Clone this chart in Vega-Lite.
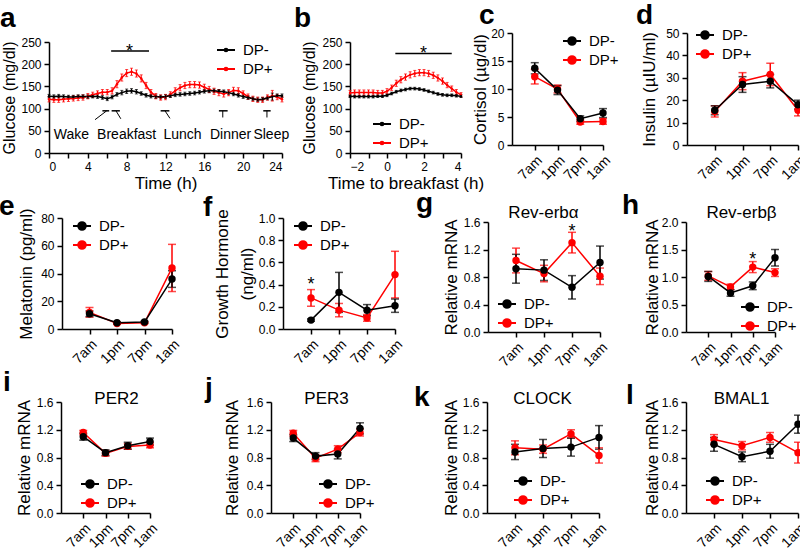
{
"$schema": "https://vega.github.io/schema/vega-lite/v6.json",
"autosize": {"type": "none"},
"padding": {"left": 49, "top": 33, "right": 751, "bottom": 525},
"background": "white",
"columns": 4,
"bounds": "flush",
"align": "each",
"spacing": {"row": 65, "column": 0},
"resolve": {"scale": {"color": "independent"}},
"config": {
 "view": {"stroke": null},
 "font": "Liberation Sans",
 "axis": {"domainColor": "#000000", "domainWidth": 1.5, "tickColor": "#000000", "tickWidth": 1.5, "tickSize": 5, "labelColor": "#000000", "labelFontSize": 12, "labelFont": "Liberation Sans", "titleFont": "Liberation Sans", "titleFontSize": 17, "titleFontWeight": "normal", "titleColor": "#000000", "grid": false, "labelPadding": 3},
 "legend": {"orient": "none", "title": null, "labelFontSize": 15, "labelFont": "Liberation Sans", "labelColor": "#000000", "symbolSize": 324, "symbolStrokeWidth": 2, "rowPadding": 1, "labelOffset": 7},
 "title": {"font": "Liberation Sans", "fontSize": 28, "fontWeight": "bold", "color": "#000000", "anchor": "start", "frame": "group", "offset": 0, "baseline": "alphabetic"},
 "text": {"font": "Liberation Sans"}
},
"datasets": {
 "glucose24": [
  {"h":0,"group":"DP+","glucose":121,"err":6},{"h":0.5,"group":"DP+","glucose":120,"err":6},{"h":1,"group":"DP+","glucose":120,"err":6},{"h":1.5,"group":"DP+","glucose":121,"err":6},{"h":2,"group":"DP+","glucose":122,"err":6},{"h":2.5,"group":"DP+","glucose":123,"err":6},{"h":3,"group":"DP+","glucose":124,"err":6},{"h":3.5,"group":"DP+","glucose":125,"err":6},{"h":4,"group":"DP+","glucose":128,"err":6},{"h":4.5,"group":"DP+","glucose":131,"err":6},{"h":5,"group":"DP+","glucose":134,"err":6},{"h":5.5,"group":"DP+","glucose":137,"err":6},{"h":6,"group":"DP+","glucose":137,"err":6},{"h":6.5,"group":"DP+","glucose":140,"err":7},{"h":7,"group":"DP+","glucose":155,"err":8},{"h":7.5,"group":"DP+","glucose":170,"err":8},{"h":8,"group":"DP+","glucose":180,"err":8},{"h":8.5,"group":"DP+","glucose":183,"err":8},{"h":9,"group":"DP+","glucose":179,"err":8},{"h":9.5,"group":"DP+","glucose":168,"err":8},{"h":10,"group":"DP+","glucose":152,"err":7},{"h":10.5,"group":"DP+","glucose":137,"err":6},{"h":11,"group":"DP+","glucose":128,"err":6},{"h":11.5,"group":"DP+","glucose":125,"err":6},{"h":12,"group":"DP+","glucose":126,"err":6},{"h":12.5,"group":"DP+","glucose":132,"err":6},{"h":13,"group":"DP+","glucose":140,"err":7},{"h":13.5,"group":"DP+","glucose":147,"err":7},{"h":14,"group":"DP+","glucose":152,"err":7},{"h":14.5,"group":"DP+","glucose":154,"err":7},{"h":15,"group":"DP+","glucose":154,"err":7},{"h":15.5,"group":"DP+","glucose":153,"err":7},{"h":16,"group":"DP+","glucose":148,"err":7},{"h":16.5,"group":"DP+","glucose":143,"err":7},{"h":17,"group":"DP+","glucose":139,"err":7},{"h":17.5,"group":"DP+","glucose":136,"err":7},{"h":18,"group":"DP+","glucose":133,"err":7},{"h":18.5,"group":"DP+","glucose":136,"err":7},{"h":19,"group":"DP+","glucose":141,"err":7},{"h":19.5,"group":"DP+","glucose":140,"err":7},{"h":20,"group":"DP+","glucose":134,"err":6},{"h":20.5,"group":"DP+","glucose":127,"err":6},{"h":21,"group":"DP+","glucose":122,"err":6},{"h":21.5,"group":"DP+","glucose":120,"err":6},{"h":22,"group":"DP+","glucose":120,"err":6},{"h":22.5,"group":"DP+","glucose":125,"err":6},{"h":23,"group":"DP+","glucose":129,"err":12},{"h":23.5,"group":"DP+","glucose":126,"err":6},{"h":24,"group":"DP+","glucose":121,"err":6},
  {"h":0,"group":"DP-","glucose":128,"err":4},{"h":0.5,"group":"DP-","glucose":127,"err":4},{"h":1,"group":"DP-","glucose":128,"err":4},{"h":1.5,"group":"DP-","glucose":127,"err":4},{"h":2,"group":"DP-","glucose":126,"err":4},{"h":2.5,"group":"DP-","glucose":126,"err":4},{"h":3,"group":"DP-","glucose":127,"err":4},{"h":3.5,"group":"DP-","glucose":127,"err":4},{"h":4,"group":"DP-","glucose":127,"err":4},{"h":4.5,"group":"DP-","glucose":128,"err":4},{"h":5,"group":"DP-","glucose":127,"err":4},{"h":5.5,"group":"DP-","glucose":125,"err":4},{"h":6,"group":"DP-","glucose":122,"err":4},{"h":6.5,"group":"DP-","glucose":126,"err":4},{"h":7,"group":"DP-","glucose":132,"err":4},{"h":7.5,"group":"DP-","glucose":136,"err":5},{"h":8,"group":"DP-","glucose":139,"err":5},{"h":8.5,"group":"DP-","glucose":140,"err":5},{"h":9,"group":"DP-","glucose":138,"err":5},{"h":9.5,"group":"DP-","glucose":134,"err":4},{"h":10,"group":"DP-","glucose":130,"err":4},{"h":10.5,"group":"DP-","glucose":128,"err":4},{"h":11,"group":"DP-","glucose":127,"err":4},{"h":11.5,"group":"DP-","glucose":126,"err":4},{"h":12,"group":"DP-","glucose":127,"err":4},{"h":12.5,"group":"DP-","glucose":129,"err":4},{"h":13,"group":"DP-","glucose":131,"err":4},{"h":13.5,"group":"DP-","glucose":132,"err":4},{"h":14,"group":"DP-","glucose":133,"err":4},{"h":14.5,"group":"DP-","glucose":134,"err":4},{"h":15,"group":"DP-","glucose":135,"err":4},{"h":15.5,"group":"DP-","glucose":137,"err":4},{"h":16,"group":"DP-","glucose":139,"err":4},{"h":16.5,"group":"DP-","glucose":140,"err":4},{"h":17,"group":"DP-","glucose":140,"err":4},{"h":17.5,"group":"DP-","glucose":139,"err":4},{"h":18,"group":"DP-","glucose":138,"err":4},{"h":18.5,"group":"DP-","glucose":136,"err":4},{"h":19,"group":"DP-","glucose":133,"err":4},{"h":19.5,"group":"DP-","glucose":130,"err":4},{"h":20,"group":"DP-","glucose":127,"err":4},{"h":20.5,"group":"DP-","glucose":125,"err":4},{"h":21,"group":"DP-","glucose":122,"err":4},{"h":21.5,"group":"DP-","glucose":120,"err":4},{"h":22,"group":"DP-","glucose":121,"err":4},{"h":22.5,"group":"DP-","glucose":124,"err":4},{"h":23,"group":"DP-","glucose":127,"err":8},{"h":23.5,"group":"DP-","glucose":129,"err":4},{"h":24,"group":"DP-","glucose":129,"err":4}
 ],
 "breakfast": [
  {"t":-2,"group":"DP+","glucose":135,"err":6},{"t":-1.75,"group":"DP+","glucose":136,"err":6},{"t":-1.5,"group":"DP+","glucose":136,"err":6},{"t":-1.25,"group":"DP+","glucose":136,"err":6},{"t":-1,"group":"DP+","glucose":136,"err":6},{"t":-0.75,"group":"DP+","glucose":136,"err":6},{"t":-0.5,"group":"DP+","glucose":135,"err":6},{"t":-0.25,"group":"DP+","glucose":135,"err":6},{"t":0,"group":"DP+","glucose":139,"err":6},{"t":0.25,"group":"DP+","glucose":147,"err":6},{"t":0.5,"group":"DP+","glucose":157,"err":7},{"t":0.75,"group":"DP+","glucose":165,"err":7},{"t":1,"group":"DP+","glucose":171,"err":7},{"t":1.25,"group":"DP+","glucose":176,"err":7},{"t":1.5,"group":"DP+","glucose":179,"err":7},{"t":1.75,"group":"DP+","glucose":181,"err":7},{"t":2,"group":"DP+","glucose":181,"err":7},{"t":2.25,"group":"DP+","glucose":179,"err":7},{"t":2.5,"group":"DP+","glucose":175,"err":7},{"t":2.75,"group":"DP+","glucose":169,"err":7},{"t":3,"group":"DP+","glucose":162,"err":7},{"t":3.25,"group":"DP+","glucose":153,"err":6},{"t":3.5,"group":"DP+","glucose":145,"err":6},{"t":3.75,"group":"DP+","glucose":137,"err":6},{"t":4,"group":"DP+","glucose":131,"err":5},
  {"t":-2,"group":"DP-","glucose":128,"err":3},{"t":-1.75,"group":"DP-","glucose":127,"err":3},{"t":-1.5,"group":"DP-","glucose":127,"err":3},{"t":-1.25,"group":"DP-","glucose":127,"err":3},{"t":-1,"group":"DP-","glucose":127,"err":3},{"t":-0.75,"group":"DP-","glucose":127,"err":3},{"t":-0.5,"group":"DP-","glucose":128,"err":3},{"t":-0.25,"group":"DP-","glucose":128,"err":3},{"t":0,"group":"DP-","glucose":130,"err":3},{"t":0.25,"group":"DP-","glucose":134,"err":3},{"t":0.5,"group":"DP-","glucose":138,"err":3},{"t":0.75,"group":"DP-","glucose":141,"err":3},{"t":1,"group":"DP-","glucose":143,"err":3},{"t":1.25,"group":"DP-","glucose":145,"err":3},{"t":1.5,"group":"DP-","glucose":145,"err":3},{"t":1.75,"group":"DP-","glucose":144,"err":3},{"t":2,"group":"DP-","glucose":142,"err":3},{"t":2.25,"group":"DP-","glucose":139,"err":3},{"t":2.5,"group":"DP-","glucose":136,"err":3},{"t":2.75,"group":"DP-","glucose":133,"err":3},{"t":3,"group":"DP-","glucose":131,"err":3},{"t":3.25,"group":"DP-","glucose":130,"err":3},{"t":3.5,"group":"DP-","glucose":130,"err":3},{"t":3.75,"group":"DP-","glucose":129,"err":3},{"t":4,"group":"DP-","glucose":128,"err":3}
 ],
 "cortisol": [
  {"time":"7am","group":"DP+","value":12.2,"err":1.3},{"time":"1pm","group":"DP+","value":10.0,"err":0.7},{"time":"7pm","group":"DP+","value":4.1,"err":0.4},{"time":"1am","group":"DP+","value":4.2,"err":0.5},
  {"time":"7am","group":"DP-","value":13.7,"err":1.0},{"time":"1pm","group":"DP-","value":9.8,"err":0.8},{"time":"7pm","group":"DP-","value":4.7,"err":0.5},{"time":"1am","group":"DP-","value":5.7,"err":0.8}
 ],
 "insulin": [
  {"time":"7am","group":"DP+","value":15.0,"err":2.5},{"time":"1pm","group":"DP+","value":28.5,"err":3.8},{"time":"7pm","group":"DP+","value":31.5,"err":5.0},{"time":"1am","group":"DP+","value":15.5,"err":2.5},
  {"time":"7am","group":"DP-","value":15.5,"err":2.0},{"time":"1pm","group":"DP-","value":27.0,"err":3.5},{"time":"7pm","group":"DP-","value":28.5,"err":3.0},{"time":"1am","group":"DP-","value":18.0,"err":2.0}
 ],
 "melatonin": [
  {"time":"7am","group":"DP+","value":12,"err":3.5},{"time":"1pm","group":"DP+","value":4.0,"err":0.6},{"time":"7pm","group":"DP+","value":4.5,"err":0.6},{"time":"1am","group":"DP+","value":44,"err":17},
  {"time":"7am","group":"DP-","value":11,"err":2},{"time":"1pm","group":"DP-","value":4.5,"err":0.6},{"time":"7pm","group":"DP-","value":5.0,"err":0.6},{"time":"1am","group":"DP-","value":36,"err":6}
 ],
 "gh": [
  {"time":"7am","group":"DP+","value":0.28,"err":0.075},{"time":"1pm","group":"DP+","value":0.17,"err":0.06},{"time":"7pm","group":"DP+","value":0.10,"err":0.03},{"time":"1am","group":"DP+","value":0.49,"err":0.21},
  {"time":"7am","group":"DP-","value":0.08,"err":0.01},{"time":"1pm","group":"DP-","value":0.33,"err":0.18},{"time":"7pm","group":"DP-","value":0.17,"err":0.05},{"time":"1am","group":"DP-","value":0.21,"err":0.06}
 ],
 "reverba": [
  {"time":"7am","group":"DP+","value":1.04,"err":0.18},{"time":"1pm","group":"DP+","value":0.85,"err":0.12},{"time":"7pm","group":"DP+","value":1.30,"err":0.15},{"time":"1am","group":"DP+","value":0.81,"err":0.12},
  {"time":"7am","group":"DP-","value":0.92,"err":0.21},{"time":"1pm","group":"DP-","value":0.90,"err":0.15},{"time":"7pm","group":"DP-","value":0.65,"err":0.17},{"time":"1am","group":"DP-","value":1.01,"err":0.24}
 ],
 "reverbb": [
  {"time":"7am","group":"DP+","value":1.02,"err":0.08},{"time":"1pm","group":"DP+","value":0.82,"err":0.05},{"time":"7pm","group":"DP+","value":1.18,"err":0.10},{"time":"1am","group":"DP+","value":1.08,"err":0.07},
  {"time":"7am","group":"DP-","value":1.01,"err":0.09},{"time":"1pm","group":"DP-","value":0.71,"err":0.06},{"time":"7pm","group":"DP-","value":0.84,"err":0.07},{"time":"1am","group":"DP-","value":1.35,"err":0.15}
 ],
 "per2": [
  {"time":"7am","group":"DP+","value":1.16,"err":0.03},{"time":"1pm","group":"DP+","value":0.86,"err":0.04},{"time":"7pm","group":"DP+","value":0.96,"err":0.04},{"time":"1am","group":"DP+","value":0.98,"err":0.04},
  {"time":"7am","group":"DP-","value":1.10,"err":0.05},{"time":"1pm","group":"DP-","value":0.87,"err":0.04},{"time":"7pm","group":"DP-","value":0.97,"err":0.05},{"time":"1am","group":"DP-","value":1.03,"err":0.05}
 ],
 "per3": [
  {"time":"7am","group":"DP+","value":1.15,"err":0.04},{"time":"1pm","group":"DP+","value":0.79,"err":0.05},{"time":"7pm","group":"DP+","value":0.92,"err":0.05},{"time":"1am","group":"DP+","value":1.16,"err":0.05},
  {"time":"7am","group":"DP-","value":1.08,"err":0.05},{"time":"1pm","group":"DP-","value":0.82,"err":0.05},{"time":"7pm","group":"DP-","value":0.85,"err":0.07},{"time":"1am","group":"DP-","value":1.22,"err":0.08}
 ],
 "clock": [
  {"time":"7am","group":"DP+","value":0.94,"err":0.10},{"time":"1pm","group":"DP+","value":0.92,"err":0.06},{"time":"7pm","group":"DP+","value":1.14,"err":0.06},{"time":"1am","group":"DP+","value":0.83,"err":0.11},
  {"time":"7am","group":"DP-","value":0.88,"err":0.11},{"time":"1pm","group":"DP-","value":0.93,"err":0.13},{"time":"7pm","group":"DP-","value":0.95,"err":0.13},{"time":"1am","group":"DP-","value":1.09,"err":0.17}
 ],
 "bmal1": [
  {"time":"7am","group":"DP+","value":1.06,"err":0.07},{"time":"1pm","group":"DP+","value":0.97,"err":0.06},{"time":"7pm","group":"DP+","value":1.09,"err":0.07},{"time":"1am","group":"DP+","value":0.87,"err":0.15},
  {"time":"7am","group":"DP-","value":0.99,"err":0.10},{"time":"1pm","group":"DP-","value":0.81,"err":0.07},{"time":"7pm","group":"DP-","value":0.89,"err":0.10},{"time":"1am","group":"DP-","value":1.28,"err":0.13}
 ]
},
"concat": [
 {
  "title": {"text": "a", "dx": -49, "dy": 4},
  "width": 222, "height": 120,
  "data": {"name": "glucose24"},
  "encoding": {
   "x": {"field": "h", "type": "quantitative", "scale": {"domain": [0, 24], "nice": false, "range": [0, 233]}, "axis": {"values": [0,2,4,6,8,10,12,14,16,18,20,22,24], "title": "Time (h)", "titlePadding": 3}},
   "y": {"field": "glucose", "type": "quantitative", "scale": {"domain": [0, 250], "nice": false, "range": [120, 9]}, "axis": {"values": [0,50,100,150,200,250], "title": "Glucose (mg/dl)", "titleFontSize": 16, "titlePadding": 3}},
   "color": {"field": "group", "type": "nominal", "scale": {"domain": ["DP-", "DP+"], "range": ["#000000", "#ff0000"]}, "legend": {"legendX": 167, "legendY": 7, "encode": {"symbols": {"update": {"fill": {"signal": "datum.value === 'DP-' ? '#000000' : '#ff0000'"}, "stroke": {"signal": "datum.value === 'DP-' ? '#000000' : '#ff0000'"}, "strokeWidth": {"value": 2}, "opacity": {"value": 1}, "shape": {"value": "M-1,0H1M-0.15,0A0.15,0.15 0 1 0 0.15,0A0.15,0.15 0 1 0 -0.15,0"}}}}}}
  },
  "layer": [
   {"mark": {"type": "errorbar", "ticks": true, "size": 3, "thickness": 1}, "encoding": {"yError": {"field": "err"}}},
   {"mark": {"type": "line", "strokeWidth": 1.5}},
   {"mark": {"type": "point", "filled": true, "size": 6, "opacity": 1}},
   {"data": {"values": [{"h": 6.4, "h2": 10.3, "glucose": 230}]}, "mark": {"type": "rule", "strokeWidth": 1.5}, "encoding": {"x2": {"field": "h2"}, "color": {"value": "#000000"}}},
   {"data": {"values": [{"h": 8.3, "glucose": 236, "s": "*"}]}, "mark": {"type": "text", "fontSize": 18, "baseline": "middle", "dy": 4}, "encoding": {"text": {"field": "s"}, "color": {"value": "#000000"}}},
   {"data": {"values": [{"meal": "Wake", "h": 5.5, "h2": 6.2, "glucose": 95}, {"meal": "Breakfast", "h": 6.45, "h2": 7.3, "glucose": 95}, {"meal": "Lunch", "h": 11.5, "h2": 12.4, "glucose": 95}, {"meal": "Dinner", "h": 17.5, "h2": 18.4, "glucose": 95}, {"meal": "Sleep", "h": 22.07, "h2": 22.83, "glucose": 95}]}, "mark": {"type": "rule", "strokeWidth": 1.5}, "encoding": {"x2": {"field": "h2"}, "color": {"value": "#000000"}}},
   {"data": {"values": [{"meal": "Wake", "h": 5.94, "h2": 4.74, "glucose": 95, "glucose2": 75}, {"meal": "Breakfast", "h": 6.9, "h2": 7.4, "glucose": 95, "glucose2": 77}, {"meal": "Lunch", "h": 11.95, "h2": 12.46, "glucose": 95, "glucose2": 78}, {"meal": "Dinner", "h": 17.9, "h2": 17.9, "glucose": 95, "glucose2": 80}, {"meal": "Sleep", "h": 22.45, "h2": 22.45, "glucose": 95, "glucose2": 80}]}, "mark": {"type": "rule", "strokeWidth": 1}, "encoding": {"x2": {"field": "h2"}, "y2": {"field": "glucose2"}, "color": {"value": "#000000"}}},
   {"data": {"values": [{"meal": "Wake", "h": 2.3, "glucose": 40}, {"meal": "Breakfast", "h": 8.0, "glucose": 40}, {"meal": "Lunch", "h": 13.76, "glucose": 40}, {"meal": "Dinner", "h": 18.7, "glucose": 40}, {"meal": "Sleep", "h": 22.9, "glucose": 40}]}, "mark": {"type": "text", "fontSize": 14, "baseline": "middle"}, "encoding": {"text": {"field": "meal"}, "color": {"value": "#000000"}}}
  ]
 },
 {
  "title": {"text": "b", "dx": 23, "dy": 4},
  "width": 216, "height": 120,
  "data": {"name": "breakfast"},
  "encoding": {
   "x": {"field": "t", "type": "quantitative", "scale": {"domain": [-2, 4], "nice": false, "range": [79, 190]}, "axis": {"values": [-2,-1,0,1,2,3,4], "title": "Time to breakfast (h)", "titlePadding": 3}},
   "y": {"field": "glucose", "type": "quantitative", "scale": {"domain": [0, 250], "nice": false, "range": [120, 9]}, "axis": {"values": [0,50,100,150,200,250], "title": "Glucose (mg/dl)", "titleFontSize": 16, "titlePadding": 4, "offset": -79}},
   "color": {"field": "group", "type": "nominal", "scale": {"domain": ["DP-", "DP+"], "range": ["#000000", "#ff0000"]}, "legend": {"legendX": 101, "legendY": 81, "encode": {"symbols": {"update": {"fill": {"signal": "datum.value === 'DP-' ? '#000000' : '#ff0000'"}, "stroke": {"signal": "datum.value === 'DP-' ? '#000000' : '#ff0000'"}, "strokeWidth": {"value": 2}, "opacity": {"value": 1}, "shape": {"value": "M-1,0H1M-0.15,0A0.15,0.15 0 1 0 0.15,0A0.15,0.15 0 1 0 -0.15,0"}}}}}}
  },
  "layer": [
   {"mark": {"type": "errorbar", "ticks": true, "size": 3, "thickness": 1}, "encoding": {"yError": {"field": "err"}}},
   {"mark": {"type": "line", "strokeWidth": 1.5}},
   {"mark": {"type": "point", "filled": true, "size": 6, "opacity": 1}},
   {"data": {"values": [{"t": 0.45, "t2": 3.5, "glucose": 224}]}, "mark": {"type": "rule", "strokeWidth": 1.5}, "encoding": {"x2": {"field": "t2"}, "color": {"value": "#000000"}}},
   {"data": {"values": [{"t": 1.97, "glucose": 231, "s": "*"}]}, "mark": {"type": "text", "fontSize": 18, "baseline": "middle", "dy": 4}, "encoding": {"text": {"field": "s"}, "color": {"value": "#000000"}}}
  ]
 },
 {
  "title": {"text": "c", "dx": -8, "dy": 7},
  "width": 199, "height": 112,
  "data": {"name": "cortisol"},
  "encoding": {
   "x": {"field": "time", "type": "ordinal", "sort": ["7am","1pm","7pm","1am"], "scale": {"type": "point", "padding": 0.5, "align": 1, "range": [25, 116]}, "axis": {"labelAngle": -45, "labelFontSize": 14, "title": null}},
   "y": {"field": "value", "type": "quantitative", "scale": {"domain": [0, 20], "nice": false}, "axis": {"values": [0,5,10,15,20], "title": "Cortisol (µg/dl)", "titlePadding": 1, "offset": -25}},
   "color": {"field": "group", "type": "nominal", "scale": {"domain": ["DP-", "DP+"], "range": ["#000000", "#ff0000"]}, "legend": {"legendX": 75, "legendY": -2, "encode": {"symbols": {"update": {"fill": {"signal": "datum.value === 'DP-' ? '#000000' : '#ff0000'"}, "stroke": {"signal": "datum.value === 'DP-' ? '#000000' : '#ff0000'"}, "strokeWidth": {"value": 2}, "opacity": {"value": 1}, "shape": {"value": "M-1,0H1M-0.42,0A0.42,0.42 0 1 0 0.42,0A0.42,0.42 0 1 0 -0.42,0"}}}}}}
  },
  "layer": [
   {"mark": {"type": "errorbar", "ticks": true, "size": 8, "thickness": 1.5}, "encoding": {"yError": {"field": "err"}}},
   {"mark": {"type": "line", "strokeWidth": 1.5}},
   {"mark": {"type": "point", "filled": true, "size": 55, "opacity": 1}}
  ]
 },
 {
  "title": {"text": "d", "dx": -50, "dy": 9},
  "width": 112, "height": 112,
  "data": {"name": "insulin"},
  "encoding": {
   "x": {"field": "time", "type": "ordinal", "sort": ["7am","1pm","7pm","1am"], "scale": {"type": "point", "padding": 0.5, "align": 1, "range": [1, 112]}, "axis": {"labelAngle": -45, "labelFontSize": 14, "title": null}},
   "y": {"field": "value", "type": "quantitative", "scale": {"domain": [0, 50], "nice": false}, "axis": {"values": [0,10,20,30,40,50], "title": "Insulin (µIU/ml)", "titlePadding": 7, "offset": -1}},
   "color": {"field": "group", "type": "nominal", "scale": {"domain": ["DP-", "DP+"], "range": ["#000000", "#ff0000"]}, "legend": {"legendX": 9, "legendY": -8, "encode": {"symbols": {"update": {"fill": {"signal": "datum.value === 'DP-' ? '#000000' : '#ff0000'"}, "stroke": {"signal": "datum.value === 'DP-' ? '#000000' : '#ff0000'"}, "strokeWidth": {"value": 2}, "opacity": {"value": 1}, "shape": {"value": "M-1,0H1M-0.42,0A0.42,0.42 0 1 0 0.42,0A0.42,0.42 0 1 0 -0.42,0"}}}}}}
  },
  "layer": [
   {"mark": {"type": "errorbar", "ticks": true, "size": 8, "thickness": 1.5}, "encoding": {"yError": {"field": "err"}}},
   {"mark": {"type": "line", "strokeWidth": 1.5}},
   {"mark": {"type": "point", "filled": true, "size": 55, "opacity": 1}}
  ]
 },
 {
  "title": {"text": "e", "dx": -50, "dy": 17},
  "width": 222, "height": 111,
  "data": {"name": "melatonin"},
  "encoding": {
   "x": {"field": "time", "type": "ordinal", "sort": ["7am","1pm","7pm","1am"], "scale": {"type": "point", "padding": 0.5, "align": 1, "range": [13, 123]}, "axis": {"labelAngle": -45, "labelFontSize": 14, "title": null}},
   "y": {"field": "value", "type": "quantitative", "scale": {"domain": [0, 80], "nice": false}, "axis": {"values": [0,20,40,60,80], "title": "Melatonin (pg/ml)", "titlePadding": 5, "offset": -13}},
   "color": {"field": "group", "type": "nominal", "scale": {"domain": ["DP-", "DP+"], "range": ["#000000", "#ff0000"]}, "legend": {"legendX": 23, "legendY": -2, "encode": {"symbols": {"update": {"fill": {"signal": "datum.value === 'DP-' ? '#000000' : '#ff0000'"}, "stroke": {"signal": "datum.value === 'DP-' ? '#000000' : '#ff0000'"}, "strokeWidth": {"value": 2}, "opacity": {"value": 1}, "shape": {"value": "M-1,0H1M-0.42,0A0.42,0.42 0 1 0 0.42,0A0.42,0.42 0 1 0 -0.42,0"}}}}}}
  },
  "layer": [
   {"mark": {"type": "errorbar", "ticks": true, "size": 8, "thickness": 1.5}, "encoding": {"yError": {"field": "err"}}},
   {"mark": {"type": "line", "strokeWidth": 1.5}},
   {"mark": {"type": "point", "filled": true, "size": 55, "opacity": 1}}
  ]
 },
 {
  "title": {"text": "f", "dx": -68, "dy": 17},
  "width": 216, "height": 111,
  "data": {"name": "gh"},
  "encoding": {
   "x": {"field": "time", "type": "ordinal", "sort": ["7am","1pm","7pm","1am"], "scale": {"type": "point", "padding": 0.5, "align": 1, "range": [12, 124]}, "axis": {"labelAngle": -45, "labelFontSize": 14, "title": null}},
   "y": {"field": "value", "type": "quantitative", "scale": {"domain": [0, 1], "nice": false}, "axis": {"values": [0,0.2,0.4,0.6,0.8,1.0], "format": ".1f", "title": ["Growth Hormone", "(ng/ml)"], "titleLineHeight": 25, "titlePadding": 2, "offset": -12}},
   "color": {"field": "group", "type": "nominal", "scale": {"domain": ["DP-", "DP+"], "range": ["#000000", "#ff0000"]}, "legend": {"legendX": 22, "legendY": -2, "encode": {"symbols": {"update": {"fill": {"signal": "datum.value === 'DP-' ? '#000000' : '#ff0000'"}, "stroke": {"signal": "datum.value === 'DP-' ? '#000000' : '#ff0000'"}, "strokeWidth": {"value": 2}, "opacity": {"value": 1}, "shape": {"value": "M-1,0H1M-0.42,0A0.42,0.42 0 1 0 0.42,0A0.42,0.42 0 1 0 -0.42,0"}}}}}}
  },
  "layer": [
   {"mark": {"type": "errorbar", "ticks": true, "size": 8, "thickness": 1.5}, "encoding": {"yError": {"field": "err"}}},
   {"mark": {"type": "line", "strokeWidth": 1.5}},
   {"mark": {"type": "point", "filled": true, "size": 55, "opacity": 1}},
   {"data": {"values": [{"time": "7am", "value": 0.43, "s": "*"}]}, "mark": {"type": "text", "fontSize": 18, "baseline": "middle", "dy": 4}, "encoding": {"text": {"field": "s"}, "color": {"value": "#000000"}}}
  ]
 },
 {
  "title": {"text": "g", "dx": -71, "dy": 19},
  "width": 199, "height": 114,
  "data": {"name": "reverba"},
  "encoding": {
   "x": {"field": "time", "type": "ordinal", "sort": ["7am","1pm","7pm","1am"], "scale": {"type": "point", "padding": 0.5, "align": 1, "range": [1, 113]}, "axis": {"labelAngle": -45, "labelFontSize": 14, "title": "Rev-erbα", "titleY": -115, "titleX": 56, "titleBaseline": "alphabetic"}},
   "y": {"field": "value", "type": "quantitative", "scale": {"domain": [0, 1.6], "nice": false, "range": [114, 4]}, "axis": {"values": [0,0.4,0.8,1.2,1.6], "format": ".1f", "title": "Relative mRNA", "titlePadding": 3, "offset": -1}},
   "color": {"field": "group", "type": "nominal", "scale": {"domain": ["DP-", "DP+"], "range": ["#000000", "#ff0000"]}, "legend": {"legendX": 10, "legendY": 76, "encode": {"symbols": {"update": {"fill": {"signal": "datum.value === 'DP-' ? '#000000' : '#ff0000'"}, "stroke": {"signal": "datum.value === 'DP-' ? '#000000' : '#ff0000'"}, "strokeWidth": {"value": 2}, "opacity": {"value": 1}, "shape": {"value": "M-1,0H1M-0.42,0A0.42,0.42 0 1 0 0.42,0A0.42,0.42 0 1 0 -0.42,0"}}}}}}
  },
  "layer": [
   {"mark": {"type": "errorbar", "ticks": true, "size": 8, "thickness": 1.5}, "encoding": {"yError": {"field": "err"}}},
   {"mark": {"type": "line", "strokeWidth": 1.5}},
   {"mark": {"type": "point", "filled": true, "size": 55, "opacity": 1}},
   {"data": {"values": [{"time": "7pm", "value": 1.52, "s": "*"}]}, "mark": {"type": "text", "fontSize": 18, "baseline": "middle", "dy": 4}, "encoding": {"text": {"field": "s"}, "color": {"value": "#000000"}}}
  ]
 },
 {
  "title": {"text": "h", "dx": -64, "dy": 21},
  "width": 112, "height": 114,
  "data": {"name": "reverbb"},
  "encoding": {
   "x": {"field": "time", "type": "ordinal", "sort": ["7am","1pm","7pm","1am"], "scale": {"type": "point", "padding": 0.5, "align": 1, "range": [0, 89]}, "axis": {"labelAngle": -45, "labelFontSize": 14, "title": "Rev-erbβ", "titleY": -115, "titleX": 55, "titleBaseline": "alphabetic"}},
   "y": {"field": "value", "type": "quantitative", "scale": {"domain": [0, 2], "nice": false, "range": [114, 4]}, "axis": {"values": [0,0.5,1.0,1.5,2.0], "format": ".1f", "title": "Relative mRNA", "titlePadding": 0}},
   "color": {"field": "group", "type": "nominal", "scale": {"domain": ["DP-", "DP+"], "range": ["#000000", "#ff0000"]}, "legend": {"legendX": 54, "legendY": 79, "encode": {"symbols": {"update": {"fill": {"signal": "datum.value === 'DP-' ? '#000000' : '#ff0000'"}, "stroke": {"signal": "datum.value === 'DP-' ? '#000000' : '#ff0000'"}, "strokeWidth": {"value": 2}, "opacity": {"value": 1}, "shape": {"value": "M-1,0H1M-0.42,0A0.42,0.42 0 1 0 0.42,0A0.42,0.42 0 1 0 -0.42,0"}}}}}}
  },
  "layer": [
   {"mark": {"type": "errorbar", "ticks": true, "size": 8, "thickness": 1.5}, "encoding": {"yError": {"field": "err"}}},
   {"mark": {"type": "line", "strokeWidth": 1.5}},
   {"mark": {"type": "point", "filled": true, "size": 55, "opacity": 1}},
   {"data": {"values": [{"time": "7pm", "value": 1.39, "s": "*"}]}, "mark": {"type": "text", "fontSize": 18, "baseline": "middle", "dy": 4}, "encoding": {"text": {"field": "s"}, "color": {"value": "#000000"}}}
  ]
 },
 {
  "title": {"text": "i", "dx": -46, "dy": 12},
  "width": 222, "height": 116,
  "data": {"name": "per2"},
  "encoding": {
   "x": {"field": "time", "type": "ordinal", "sort": ["7am","1pm","7pm","1am"], "scale": {"type": "point", "padding": 0.5, "align": 1, "range": [12, 101]}, "axis": {"labelAngle": -45, "labelFontSize": 14, "title": "PER2", "titleY": -110, "titleX": 67, "titleBaseline": "alphabetic"}},
   "y": {"field": "value", "type": "quantitative", "scale": {"domain": [0, 1.6], "nice": false, "range": [116, 5]}, "axis": {"values": [0,0.4,0.8,1.2,1.6], "format": ".1f", "title": "Relative mRNA", "titlePadding": 3, "offset": -12}},
   "color": {"field": "group", "type": "nominal", "scale": {"domain": ["DP-", "DP+"], "range": ["#000000", "#ff0000"]}, "legend": {"legendX": 31, "legendY": 77, "encode": {"symbols": {"update": {"fill": {"signal": "datum.value === 'DP-' ? '#000000' : '#ff0000'"}, "stroke": {"signal": "datum.value === 'DP-' ? '#000000' : '#ff0000'"}, "strokeWidth": {"value": 2}, "opacity": {"value": 1}, "shape": {"value": "M-1,0H1M-0.42,0A0.42,0.42 0 1 0 0.42,0A0.42,0.42 0 1 0 -0.42,0"}}}}}}
  },
  "layer": [
   {"mark": {"type": "errorbar", "ticks": true, "size": 8, "thickness": 1.5}, "encoding": {"yError": {"field": "err"}}},
   {"mark": {"type": "line", "strokeWidth": 1.5}},
   {"mark": {"type": "point", "filled": true, "size": 55, "opacity": 1}}
  ]
 },
 {
  "title": {"text": "j", "dx": -66, "dy": 18},
  "width": 216, "height": 116,
  "data": {"name": "per3"},
  "encoding": {
   "x": {"field": "time", "type": "ordinal", "sort": ["7am","1pm","7pm","1am"], "scale": {"type": "point", "padding": 0.5, "align": 1, "range": [0, 89]}, "axis": {"labelAngle": -45, "labelFontSize": 14, "title": "PER3", "titleY": -110, "titleX": 55, "titleBaseline": "alphabetic"}},
   "y": {"field": "value", "type": "quantitative", "scale": {"domain": [0, 1.6], "nice": false, "range": [116, 5]}, "axis": {"values": [0,0.4,0.8,1.2,1.6], "format": ".1f", "title": "Relative mRNA", "titlePadding": 5}},
   "color": {"field": "group", "type": "nominal", "scale": {"domain": ["DP-", "DP+"], "range": ["#000000", "#ff0000"]}, "legend": {"legendX": 47, "legendY": 77, "encode": {"symbols": {"update": {"fill": {"signal": "datum.value === 'DP-' ? '#000000' : '#ff0000'"}, "stroke": {"signal": "datum.value === 'DP-' ? '#000000' : '#ff0000'"}, "strokeWidth": {"value": 2}, "opacity": {"value": 1}, "shape": {"value": "M-1,0H1M-0.42,0A0.42,0.42 0 1 0 0.42,0A0.42,0.42 0 1 0 -0.42,0"}}}}}}
  },
  "layer": [
   {"mark": {"type": "errorbar", "ticks": true, "size": 8, "thickness": 1.5}, "encoding": {"yError": {"field": "err"}}},
   {"mark": {"type": "line", "strokeWidth": 1.5}},
   {"mark": {"type": "point", "filled": true, "size": 55, "opacity": 1}}
  ]
 },
 {
  "title": {"text": "k", "dx": -73, "dy": 27},
  "width": 199, "height": 116,
  "data": {"name": "clock"},
  "encoding": {
   "x": {"field": "time", "type": "ordinal", "sort": ["7am","1pm","7pm","1am"], "scale": {"type": "point", "padding": 0.5, "align": 1, "range": [0, 112]}, "axis": {"labelAngle": -45, "labelFontSize": 14, "title": "CLOCK", "titleY": -110, "titleX": 55, "titleBaseline": "alphabetic"}},
   "y": {"field": "value", "type": "quantitative", "scale": {"domain": [0, 1.6], "nice": false, "range": [116, 5]}, "axis": {"values": [0,0.4,0.8,1.2,1.6], "format": ".1f", "title": "Relative mRNA", "titlePadding": 2}},
   "color": {"field": "group", "type": "nominal", "scale": {"domain": ["DP-", "DP+"], "range": ["#000000", "#ff0000"]}, "legend": {"legendX": 26, "legendY": 74, "encode": {"symbols": {"update": {"fill": {"signal": "datum.value === 'DP-' ? '#000000' : '#ff0000'"}, "stroke": {"signal": "datum.value === 'DP-' ? '#000000' : '#ff0000'"}, "strokeWidth": {"value": 2}, "opacity": {"value": 1}, "shape": {"value": "M-1,0H1M-0.42,0A0.42,0.42 0 1 0 0.42,0A0.42,0.42 0 1 0 -0.42,0"}}}}}}
  },
  "layer": [
   {"mark": {"type": "errorbar", "ticks": true, "size": 8, "thickness": 1.5}, "encoding": {"yError": {"field": "err"}}},
   {"mark": {"type": "line", "strokeWidth": 1.5}},
   {"mark": {"type": "point", "filled": true, "size": 55, "opacity": 1}}
  ]
 },
 {
  "title": {"text": "l", "dx": -60, "dy": 25},
  "width": 112, "height": 116,
  "data": {"name": "bmal1"},
  "encoding": {
   "x": {"field": "time", "type": "ordinal", "sort": ["7am","1pm","7pm","1am"], "scale": {"type": "point", "padding": 0.5, "align": 1, "range": [0, 112]}, "axis": {"labelAngle": -45, "labelFontSize": 14, "title": "BMAL1", "titleY": -110, "titleX": 55, "titleBaseline": "alphabetic"}},
   "y": {"field": "value", "type": "quantitative", "scale": {"domain": [0, 1.6], "nice": false, "range": [116, 5]}, "axis": {"values": [0,0.4,0.8,1.2,1.6], "format": ".1f", "title": "Relative mRNA", "titlePadding": 0}},
   "color": {"field": "group", "type": "nominal", "scale": {"domain": ["DP-", "DP+"], "range": ["#000000", "#ff0000"]}, "legend": {"legendX": 19, "legendY": 74, "encode": {"symbols": {"update": {"fill": {"signal": "datum.value === 'DP-' ? '#000000' : '#ff0000'"}, "stroke": {"signal": "datum.value === 'DP-' ? '#000000' : '#ff0000'"}, "strokeWidth": {"value": 2}, "opacity": {"value": 1}, "shape": {"value": "M-1,0H1M-0.42,0A0.42,0.42 0 1 0 0.42,0A0.42,0.42 0 1 0 -0.42,0"}}}}}}
  },
  "layer": [
   {"mark": {"type": "errorbar", "ticks": true, "size": 8, "thickness": 1.5}, "encoding": {"yError": {"field": "err"}}},
   {"mark": {"type": "line", "strokeWidth": 1.5}},
   {"mark": {"type": "point", "filled": true, "size": 55, "opacity": 1}}
  ]
 }
]
}
